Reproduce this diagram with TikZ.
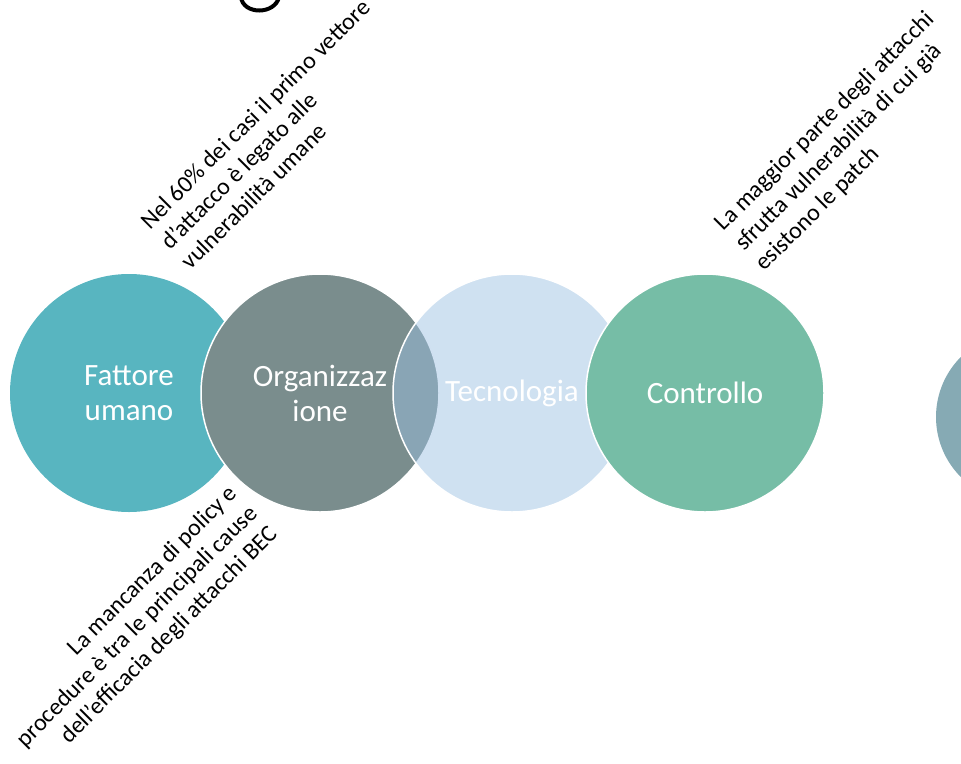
\documentclass[tikz,border=0pt]{standalone}
\usepackage{fontspec}
\setmainfont{Carlito}
\definecolor{umanocol}{RGB}{88,181,192}
\definecolor{orgcol}{RGB}{122,141,141}
\definecolor{tecnocol}{RGB}{155,192,226}
\definecolor{controllocol}{RGB}{118,189,166}
\definecolor{quintocol}{RGB}{134,170,180}
\begin{document}
\begin{tikzpicture}[x=1pt,y=-1pt,
    bolla/.style={circle,inner sep=0pt,minimum size=238pt,draw=white,line width=1.5pt,text=white,align=center,font=\fontsize{31}{35}\selectfont},
    nota/.style={rotate=45,inner sep=0pt,font=\fontsize{24}{28.5}\selectfont}]
    \useasboundingbox (0,0) rectangle (961,763);
    \draw[line width=4pt] (241,-3) .. controls (243,15) and (275,15) .. (279,-3);

    \node[bolla,fill=umanocol,draw=none] (umano) at (129,393) {Fattore\\umano};
    \node[bolla,fill=orgcol] (org) at (320,393) {Organizzaz\\ione};
    \node[bolla,fill=tecnocol,fill opacity=0.48,text opacity=1] (tecno) at (512,393) {Tecnologia};
    \node[bolla,fill=controllocol] (controllo) at (705,393) {Controllo};
    \node[bolla,fill=quintocol,draw=none,minimum size=170pt] (quinto) at (1021,417) {};

    \node[nota,anchor=south west,align=left] (notaumano) at (191,271) {Nel 60\% dei casi il primo vettore\\d’attacco è legato alle\\vulnerabilità umane};
    \node[nota,anchor=south east,align=right] (notaorg) at (282,538) {La mancanza di policy e\\procedure è tra le principali cause\\dell’efficacia degli attacchi BEC};
    \node[nota,anchor=south west,align=left] (notacontrollo) at (767,275) {La maggior parte degli attacchi\\sfrutta vulnerabilità di cui già\\esistono le patch};
\end{tikzpicture}
\end{document}
